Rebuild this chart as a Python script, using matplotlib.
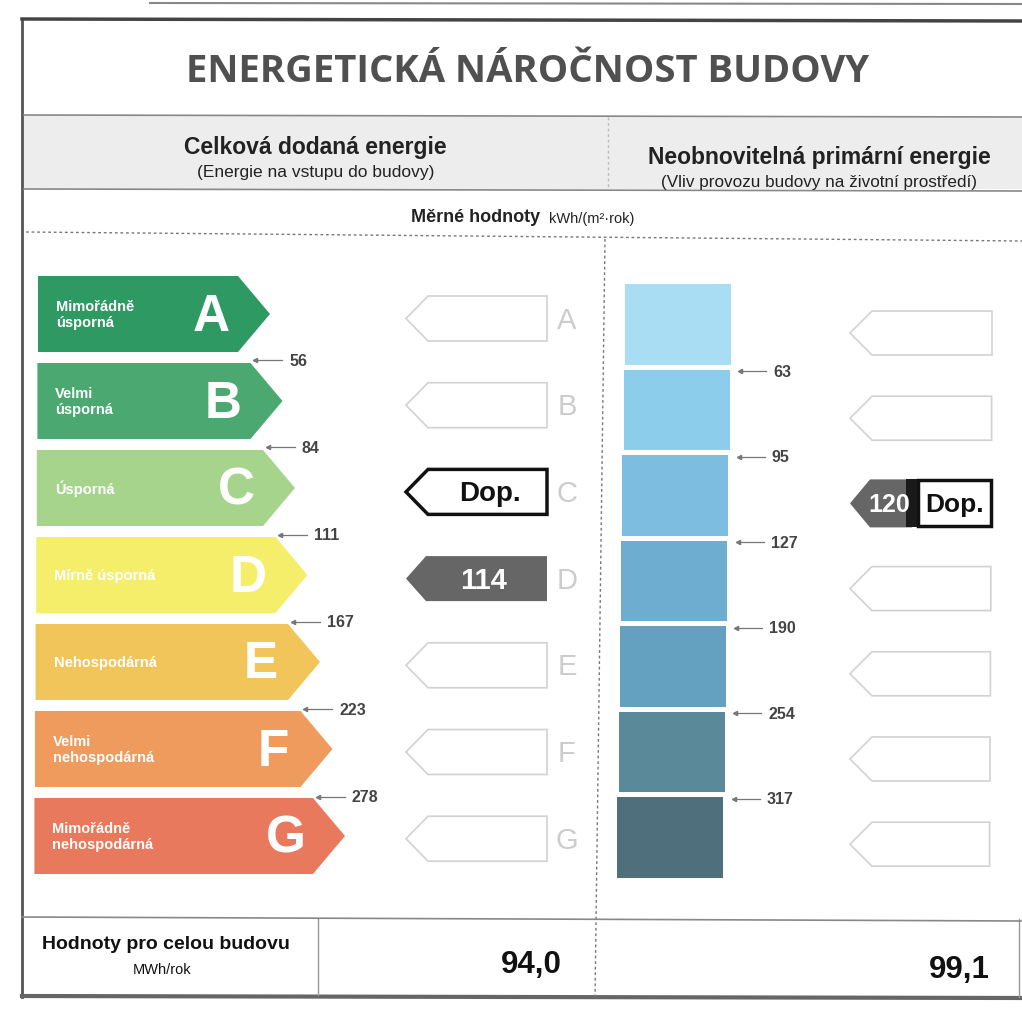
import matplotlib.pyplot as plt
from matplotlib.patches import Polygon, Rectangle

plt.rcParams['font.family'] = ['Liberation Sans', 'DejaVu Sans']

classes = ['A', 'B', 'C', 'D', 'E', 'F', 'G']
class_names = ['Mimořádně\núsporná', 'Velmi\núsporná', 'Úsporná', 'Mírně úsporná',
               'Nehospodárná', 'Velmi\nnehospodárná', 'Mimořádně\nnehospodárná']
delivered_limits = [56, 84, 111, 167, 223, 278]
primary_limits = [63, 95, 127, 190, 254, 317]
delivered_value = 114
delivered_class = 'D'
delivered_ref_class = 'C'
primary_value = 120
primary_class = 'C'
total_delivered = '94,0'
total_primary = '99,1'

class_colors = ['#2f9963', '#4aa870', '#a7d48c', '#f4ee6b', '#f2c55b', '#ef9b5e', '#e9795c']
blue_colors = ['#a9ddf3', '#8ccdec', '#7dbde0', '#6eadd0', '#64a0bf', '#5a8a9a', '#4e6f7b']

fig = plt.figure(figsize=(10.22, 10.12), dpi=100)
ax = fig.add_axes([0, 0, 1, 1])
ax.set_xlim(0, 1022)
ax.set_ylim(1012, 0)
ax.axis('off')

# frame
ax.plot([22, 22], [22, 998], color='#555555', lw=2)
ax.plot([22, 1022], [20, 22], color='#444444', lw=2.5)
ax.plot([150, 1022], [4, 5], color='#888888', lw=1.5)
ax.plot([22, 1022], [997, 999], color='#666666', lw=3)
ax.plot([1019, 1019], [920, 998], color='#999999', lw=1)

ax.text(528, 72, 'ENERGETICKÁ NÁROČNOST BUDOVY', ha='center', va='center',
        fontsize=27.5, fontweight='bold', color='#505050', family=['Open Sans', 'DejaVu Sans'])

# header band
ax.add_patch(Rectangle((24, 117), 998, 73, facecolor='#ededed', edgecolor='none'))
ax.plot([24, 1022], [116, 118], color='#888888', lw=1.2)
ax.plot([24, 1022], [190, 192], color='#888888', lw=1.2)
ax.plot([608, 608], [118, 190], color='#bbbbbb', lw=1, ls=(0, (2, 2)))
ax.text(315, 147, 'Celková dodaná energie', ha='center', va='center', fontsize=16.5, fontweight='bold', color='#222222')
ax.text(316, 172, '(Energie na vstupu do budovy)', ha='center', va='center', fontsize=12.5, color='#222222')
ax.text(819, 157, 'Neobnovitelná primární energie', ha='center', va='center', fontsize=16.5, fontweight='bold', color='#222222')
ax.text(819, 182, '(Vliv provozu budovy na životní prostředí)', ha='center', va='center', fontsize=12.3, color='#222222')

ax.text(476, 217, 'Měrné hodnoty', ha='center', va='center', fontsize=13, fontweight='bold', color='#222222')
ax.text(549, 219, 'kWh/(m²·rok)', ha='left', va='center', fontsize=10.5, color='#222222')
ax.plot([26, 1022], [233, 242], color='#777777', lw=1, ls=(0, (2, 2)))
ax.plot([605, 595], [240, 1000], color='#777777', lw=1, ls=(0, (2, 2)))

# left colour scale
row_h = 87
arrow_h = 76
for i, (cls, name, col) in enumerate(zip(classes, class_names, class_colors)):
    y0 = 277 + i * row_h
    y1 = y0 + arrow_h
    yc = (y0 + y1) / 2
    x0 = 38 - i * 0.6
    tip = 270 + i * 12.5
    body = tip - 32
    ax.add_patch(Polygon([(x0, y0), (body, y0), (tip, yc), (body, y1), (x0, y1)],
                         closed=True, facecolor=col, edgecolor='none'))
    ax.text(x0 + 18, yc, name, ha='left', va='center', fontsize=10.5, fontweight='bold',
            color='white', linespacing=1.2)
    ax.text(body - 27, yc + 2, cls, ha='center', va='center', fontsize=37, fontweight='bold', color='white')

    # middle column: outline arrows pointing left
    my0 = 297 + i * 86.7
    my1 = my0 + 45
    myc = (my0 + my1) / 2
    mx_tip = 406
    mx_r = 547
    ax.text(567, myc + 1, cls, ha='center', va='center', fontsize=21, color='#cccccc')
    if cls == delivered_class:
        ax.add_patch(Polygon([(mx_tip, myc), (mx_tip + 20, my0), (mx_r, my0), (mx_r, my1), (mx_tip + 20, my1)],
                             closed=True, facecolor='#666666', edgecolor='none'))
        ax.text(484, myc + 1, str(delivered_value), ha='center', va='center', fontsize=21,
                fontweight='bold', color='white')
    elif cls == delivered_ref_class:
        ax.add_patch(Polygon([(mx_tip, myc), (mx_tip + 22, my0), (mx_r, my0), (mx_r, my1), (mx_tip + 22, my1)],
                             closed=True, facecolor='white', edgecolor='#111111', lw=2.5))
        ax.text(490, myc + 1, 'Dop.', ha='center', va='center', fontsize=20, fontweight='bold', color='#111111')
    else:
        ax.add_patch(Polygon([(mx_tip, myc), (mx_tip + 22, my0), (mx_r, my0), (mx_r, my1), (mx_tip + 22, my1)],
                             closed=True, facecolor='white', edgecolor='#d2d2d2', lw=1.2))

# left thresholds
for i, lim in enumerate(delivered_limits):
    ty = 361 + i * 87.3
    tx = 255 + i * 12.6
    ax.plot([tx, tx + 27], [ty, ty], color='#777777', lw=0.9)
    ax.plot([tx], [ty], marker='<', ms=3, color='#777777')
    ax.text(tx + 34, ty, str(lim), ha='left', va='center', fontsize=11.5, fontweight='bold', color='#444444')

# right: blue scale
seg_top = 285
seg_h = 85.5
for i, col in enumerate(blue_colors):
    y0 = seg_top + i * seg_h
    x0 = 625 - i * 1.3
    ax.add_patch(Rectangle((x0, y0), 106, seg_h - 5, facecolor=col, edgecolor='none'))

for i, lim in enumerate(primary_limits):
    ty = 372 + i * 85.6
    tx = 740 - i * 1.2
    ax.plot([tx, tx + 26], [ty, ty], color='#777777', lw=0.9)
    ax.plot([tx], [ty], marker='<', ms=3, color='#777777')
    ax.text(tx + 33, ty, str(lim), ha='left', va='center', fontsize=11.5, fontweight='bold', color='#444444')

# right arrows
for i, cls in enumerate(classes):
    ry0 = 312 + i * 85.2
    ry1 = ry0 + 44
    ryc = (ry0 + ry1) / 2
    rx_tip = 850
    rx_r = 992 - i * 0.4
    if cls == primary_class:
        ax.add_patch(Polygon([(rx_tip, ryc), (rx_tip + 20, ry0 - 2), (912, ry0 - 2), (912, ry1 + 2), (rx_tip + 20, ry1 + 2)],
                             closed=True, facecolor='#666666', edgecolor='none'))
        ax.add_patch(Rectangle((906, ry0 - 2), 12, ry1 - ry0 + 4, facecolor='#1a1a1a', edgecolor='none'))
        ax.add_patch(Rectangle((918, ry0 - 1), rx_r - 918, ry1 - ry0 + 2, facecolor='white',
                               edgecolor='#111111', lw=2.5))
        ax.text(889, ryc + 1, str(primary_value), ha='center', va='center', fontsize=18,
                fontweight='bold', color='white')
        ax.text(955, ryc + 1, 'Dop.', ha='center', va='center', fontsize=19, fontweight='bold', color='#111111')
    else:
        ax.add_patch(Polygon([(rx_tip, ryc), (rx_tip + 22, ry0), (rx_r, ry0), (rx_r, ry1), (rx_tip + 22, ry1)],
                             closed=True, facecolor='white', edgecolor='#d2d2d2', lw=1.2))

# bottom totals
ax.plot([22, 1022], [918, 922], color='#888888', lw=1.2)
ax.plot([318, 318], [920, 996], color='#999999', lw=1)
ax.text(166, 945, 'Hodnoty pro celou budovu', ha='center', va='center', fontsize=14, fontweight='bold', color='#111111')
ax.text(162, 970, 'MWh/rok', ha='center', va='center', fontsize=10.5, color='#111111')
ax.text(562, 965, total_delivered, ha='right', va='center', fontsize=22.5, fontweight='bold', color='#111111')
ax.text(990, 970, total_primary, ha='right', va='center', fontsize=22.5, fontweight='bold', color='#111111')

fig.savefig('out.png', dpi=100, facecolor='white')
